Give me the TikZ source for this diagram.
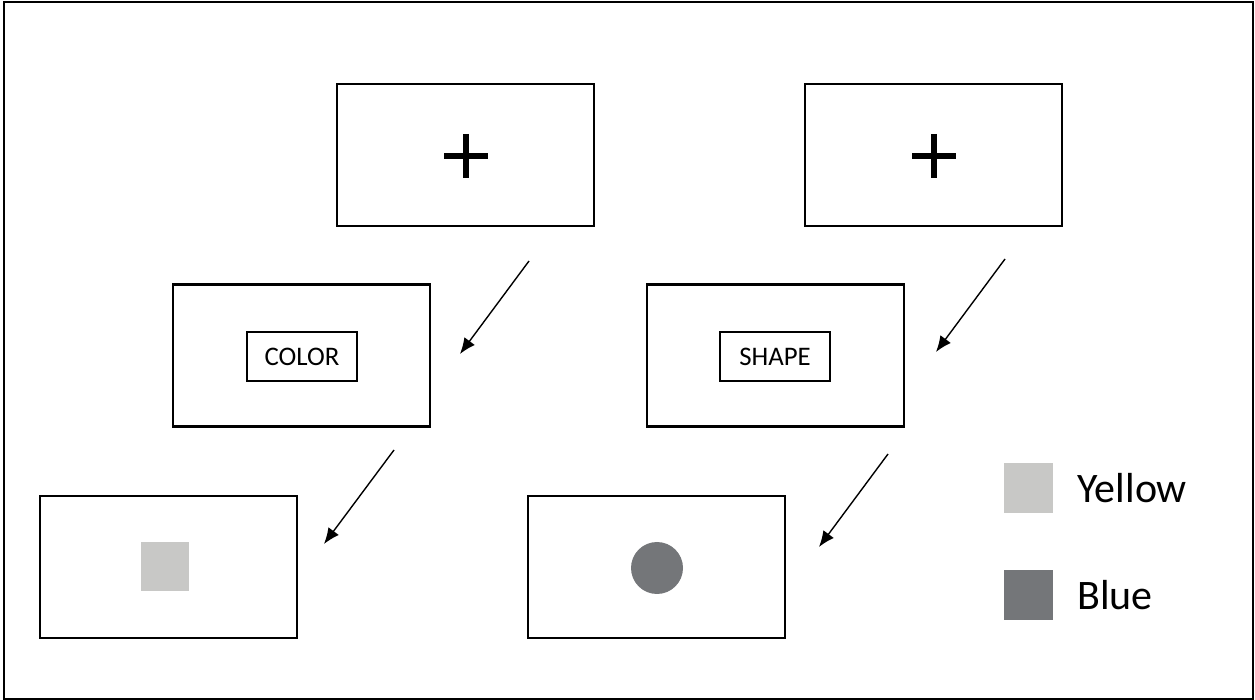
\documentclass[tikz,border=0pt]{standalone}
\usepackage{fontspec}
\setmainfont{Carlito}
\usetikzlibrary{arrows.meta}
\definecolor{lightswatch}{HTML}{C8C8C6}
\definecolor{darkswatch}{HTML}{747679}
\tikzset{
  screen/.style={draw=black, line width=1.1pt, minimum width=128.5pt, minimum height=71pt, inner sep=0pt},
  cue/.style={draw=black, line width=0.6pt, minimum width=55pt, minimum height=24.5pt, inner sep=0pt, font=\fontsize{13.4}{15}\selectfont},
  flow/.style={line width=0.7pt, -{Latex[length=8pt,width=6.5pt]}},
  legendtext/.style={anchor=west, inner sep=0pt, font=\fontsize{21}{25}\selectfont},
  fixcross/.style={line width=3.2pt}
}
\begin{document}
\begin{tikzpicture}[x=0.5pt,y=-0.5pt]
  \useasboundingbox (0,0) rectangle (1255,700);
  \draw[line width=1pt] (4,2) rectangle (1253,699);

  % fixation screens
  \node[screen] (fixL) at (465.5,155) {};
  \node[screen] (fixR) at (933.5,155) {};
  \draw[fixcross] (444,156) -- (488,156) (466,134) -- (466,178);
  \draw[fixcross] (912,156) -- (956,156) (934,134) -- (934,178);

  % cue screens
  \node[screen] (cueL) at (301.5,355.5) {};
  \node[screen] (cueR) at (775.5,355.5) {};
  \node[cue] (color) at (302,356.5) {COLOR};
  \node[cue] (shape) at (775,356.5) {SHAPE};

  % stimulus screens
  \node[screen] (stimL) at (168.5,567) {};
  \node[screen] (stimR) at (656.5,567) {};
  \node[fill=lightswatch, minimum width=24pt, minimum height=24.5pt, inner sep=0pt] (sq) at (165,566.5) {};
  \node[fill=darkswatch, circle, minimum size=26pt, inner sep=0pt] (dot) at (657,568) {};

  % sequence arrows
  \coordinate (a1s) at (529,261); \coordinate (a1e) at (460,354);
  \coordinate (a2s) at (1005,259); \coordinate (a2e) at (936,352);
  \coordinate (a3s) at (394,450); \coordinate (a3e) at (324,544);
  \coordinate (a4s) at (888,454); \coordinate (a4e) at (819,547);
  \draw[flow] (a1s) -- (a1e);
  \draw[flow] (a2s) -- (a2e);
  \draw[flow] (a3s) -- (a3e);
  \draw[flow] (a4s) -- (a4e);

  % legend
  \node[fill=lightswatch, minimum width=24.5pt, minimum height=25pt, inner sep=0pt] (keyY) at (1028,488) {};
  \node[fill=darkswatch, minimum width=24.5pt, minimum height=25pt, inner sep=0pt] (keyB) at (1028,595.5) {};
  \node[legendtext] (labY) at (1077,488) {Yellow};
  \node[legendtext] (labB) at (1077,595) {Blue};
\end{tikzpicture}
\end{document}
